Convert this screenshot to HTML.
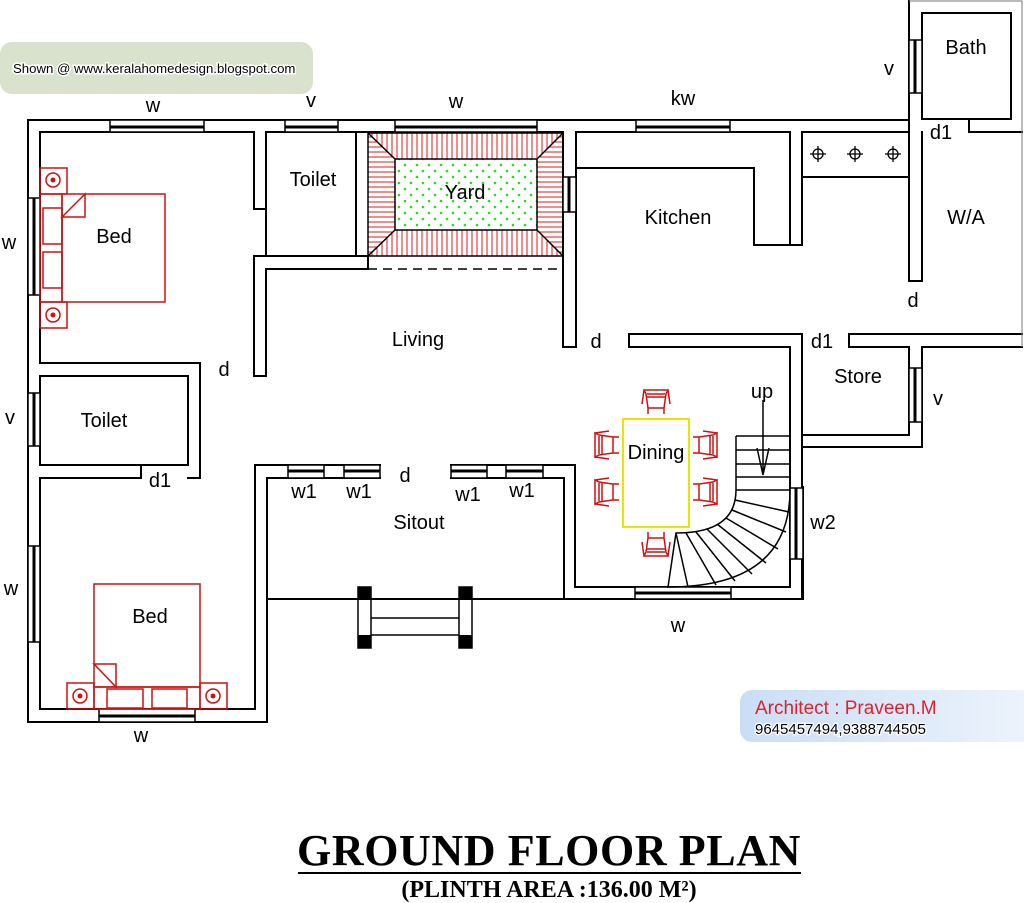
<!DOCTYPE html>
<html><head><meta charset="utf-8"><style>
html,body{margin:0;padding:0;background:#fff;}
svg{display:block}
text{font-family:"Liberation Sans",sans-serif;fill:#000}
</style></head><body>
<svg width="1024" height="903" viewBox="0 0 1024 903" xmlns="http://www.w3.org/2000/svg">
<defs>
<linearGradient id="ag" x1="0" y1="0" x2="1" y2="0"><stop offset="0" stop-color="#c9def6"/><stop offset="1" stop-color="#eef4fc"/></linearGradient>
<pattern id="dots" width="12" height="12" patternUnits="userSpaceOnUse"><circle cx="3" cy="3" r="1.3" fill="#22dd22"/><circle cx="9" cy="9" r="1.3" fill="#22dd22"/></pattern>
<pattern id="vh" width="5" height="5" patternUnits="userSpaceOnUse"><line x1="2" y1="0" x2="2" y2="5" stroke="#e01818" stroke-width="1"/></pattern>
<pattern id="hh" width="5" height="5" patternUnits="userSpaceOnUse"><line x1="0" y1="2" x2="5" y2="2" stroke="#e01818" stroke-width="1"/></pattern>
<g id="chair" stroke="#d01010" stroke-width="1.5" fill="none">
<path d="M-12,-12 h24 l-2,4 l-2,14 h-16 l-2,-14 z M-9,-8 h18 M-9,-5 h18 M-8,6 v6 M8,6 v6 M-12,-12 l-2,14 M12,-12 l2,14"/>
</g>
</defs>
<!-- Shown box -->
<rect x="0" y="42" width="313" height="52" rx="12" fill="#d9e2cd"/>
<text x="13" y="73" font-size="13.2" stroke="#fff" stroke-width="3" paint-order="stroke">Shown @  www.keralahomedesign.blogspot.com</text>

<!-- Yard -->
<rect x="368" y="133" width="195" height="123" fill="#fff"/>
<polygon points="368,133 563,133 537,159 395,159" fill="url(#vh)"/>
<polygon points="368,256 563,256 537,230 395,230" fill="url(#vh)"/>
<polygon points="368,133 395,159 395,230 368,256" fill="url(#hh)"/>
<polygon points="563,133 537,159 537,230 563,256" fill="url(#hh)"/>
<rect x="395" y="159" width="142" height="71" fill="url(#dots)" stroke="#000" stroke-width="1.5"/>
<g stroke="#000" stroke-width="1.5" fill="none">
<rect x="368" y="133" width="195" height="123"/>
<line x1="368" y1="133" x2="395" y2="159"/><line x1="563" y1="133" x2="537" y2="159"/>
<line x1="368" y1="256" x2="395" y2="230"/><line x1="563" y1="256" x2="537" y2="230"/>
<line x1="368" y1="269" x2="563" y2="269" stroke-dasharray="9,6"/>
</g>

<!-- Walls -->
<g stroke="#000" stroke-width="2" fill="none" stroke-linecap="square">
<path d="M28,120 H909"/>
<path d="M40,132 H254 M266,132 H563 M576,132 H790 M802,132 H909"/>
<path d="M28,120 V722 H267"/>
<path d="M40,132 V363 M40,376 V465 M40,478 V709 H255"/>
<path d="M40,363 H200 V478 H188 M40,376 H188 V465 H40 M40,478 H141 V465"/>
<path d="M254,132 V209 H266 M266,132 V256 M356,132 V256 M254,256 H368 V269 H266 M254,256 V376 H266 V269"/>
<path d="M563,132 V347 H576 V132"/>
<path d="M576,168 H754 V245 H802 V132 M790,132 V245"/>
<path d="M802,177 H909"/>
<path d="M909,1 V281 H922 V132 M922,119 V13 H1011 V119 H922 M969,119 V132 H1022"/>
<path d="M629,334 H802 M849,334 H1022 M629,347 H790 M849,347 H909 M922,347 H1022 M629,334 V347 M849,334 V347"/>
<path d="M790,347 V587 M802,334 V599 M802,435 H909 V347 M922,347 V447 H802"/>
<path d="M255,465 H380 M451,465 H575 M267,478 H380 M451,478 H564 M255,465 V709 M267,478 V722 M564,478 V599 M575,465 V587 H790 M267,599 H803 V599 M803,599 V487"/>
</g>
<g stroke="#777" stroke-width="1" fill="none"><path d="M909,1 H1022 V347"/></g>

<!-- Windows -->
<g stroke="#000" stroke-width="1.5" fill="#fff">
<rect x="110" y="120" width="94" height="12"/><rect x="285" y="120" width="53" height="12"/>
<rect x="395" y="120" width="142" height="12"/><rect x="636" y="120" width="94" height="12"/>
<rect x="909" y="40" width="13" height="53"/><rect x="563" y="177" width="13" height="35"/>
<rect x="28" y="198" width="12" height="97"/><rect x="28" y="393" width="12" height="53"/>
<rect x="28" y="546" width="12" height="96"/><rect x="99" y="709" width="96" height="13"/>
<rect x="909" y="368" width="13" height="54"/><rect x="790" y="488" width="13" height="71"/>
<rect x="635" y="587" width="96" height="12"/>
<rect x="288" y="465" width="36" height="13"/><rect x="344" y="465" width="36" height="13"/>
<rect x="451" y="465" width="36" height="13"/><rect x="506" y="465" width="37" height="13"/>
</g>
<g stroke="#000" stroke-width="3">
<path d="M110,127 H204 M285,127 H338 M395,127 H537 M636,127 H730 M915,40 V93 M569,177 V212 M34,198 V295 M34,393 V446 M34,546 V642 M99,716 H195 M915,368 V422 M796,488 V559 M635,593 H731 M288,471 H324 M344,471 H380 M451,471 H487 M506,471 H543"/>
</g>

<!-- Sitout steps -->
<g stroke="#000" stroke-width="1.5" fill="#fff">
<rect x="358" y="587" width="13" height="61"/><rect x="459" y="587" width="13" height="61"/>
<path d="M371,618 H459 M371,635 H459"/>
</g>
<g fill="#000"><rect x="358" y="587" width="13" height="13"/><rect x="459" y="587" width="13" height="13"/><rect x="358" y="635" width="13" height="13"/><rect x="459" y="635" width="13" height="13"/></g>

<!-- Kitchen burners -->
<g stroke="#000" stroke-width="1.3" fill="none">
<circle cx="818" cy="154" r="5"/><path d="M810,154 H826 M818,146 V162"/>
<circle cx="855" cy="154" r="5"/><path d="M847,154 H863 M855,146 V162"/>
<circle cx="893" cy="154" r="5"/><path d="M885,154 H901 M893,146 V162"/>
</g>

<!-- Stairs -->
<g stroke="#000" stroke-width="1.5" fill="none">
<path d="M736,436 H790 M736,436 V490 M736,450 H790 M736,464 H790 M736,477 H790 M736,490 H790"/>
<path d="M736,490 Q736,533 676,533 L668,587 Q790,587 790,490"/>
<path d="M735,500 L789,512 M732,510 L786,532 M726,518 L778,549 M717,524 L766,563 M707,529 L752,574 M696,532 L735,581 M686,533 L716,585 M676,533 L688,587"/>
<path d="M763,400 V475 M757,448 L763,475 L769,448"/>
</g>

<!-- Dining -->
<rect x="623" y="419" width="66" height="108" fill="none" stroke="#e6e600" stroke-width="2"/>
<use href="#chair" transform="translate(656,402)"/>
<use href="#chair" transform="translate(656,544) rotate(180)"/>
<use href="#chair" transform="translate(607,445) rotate(-90)"/>
<use href="#chair" transform="translate(607,492) rotate(-90)"/>
<use href="#chair" transform="translate(705,445) rotate(90)"/>
<use href="#chair" transform="translate(705,492) rotate(90)"/>

<!-- Beds -->
<g stroke="#d01010" stroke-width="1.5" fill="none">
<rect x="62" y="194" width="103" height="108"/>
<rect x="40" y="194" width="22" height="108"/>
<rect x="43" y="208" width="19" height="36"/><rect x="43" y="252" width="19" height="36"/>
<path d="M62,217 L85,194 V217 Z"/>
<rect x="40" y="168" width="27" height="26"/><rect x="40" y="302" width="27" height="26"/>
<circle cx="53" cy="180" r="7"/><circle cx="53" cy="315" r="7"/>
<rect x="94" y="584" width="106" height="103"/>
<rect x="94" y="687" width="106" height="22"/>
<rect x="107" y="689" width="36" height="19"/><rect x="152" y="689" width="35" height="19"/>
<path d="M94,664 H116 V687 Z"/>
<rect x="67" y="683" width="27" height="26"/><rect x="200" y="683" width="27" height="26"/>
<circle cx="80" cy="696" r="7"/><circle cx="213" cy="696" r="7"/>
</g>
<g fill="#d01010"><circle cx="53" cy="180" r="2.5"/><circle cx="53" cy="315" r="2.5"/><circle cx="80" cy="696" r="2.5"/><circle cx="213" cy="696" r="2.5"/></g>

<!-- Labels -->
<g font-size="20" text-anchor="middle">
<text x="153" y="112">w</text><text x="311" y="107">v</text><text x="456" y="108">w</text><text x="683" y="105">kw</text>
<text x="889" y="75">v</text><text x="966" y="54">Bath</text><text x="941" y="139">d1</text><text x="966" y="224">W/A</text>
<text x="913" y="307">d</text><text x="313" y="186">Toilet</text><text x="465" y="199">Yard</text><text x="678" y="224">Kitchen</text>
<text x="114" y="243">Bed</text><text x="9" y="249">w</text><text x="418" y="346">Living</text><text x="224" y="376">d</text>
<text x="596" y="348">d</text><text x="822" y="348">d1</text><text x="858" y="383">Store</text><text x="938" y="405">v</text>
<text x="762" y="398">up</text><text x="10" y="424">v</text><text x="104" y="427">Toilet</text><text x="160" y="487">d1</text>
<text x="656" y="459">Dining</text><text x="823" y="529">w2</text><text x="304" y="498">w1</text><text x="359" y="498">w1</text>
<text x="405" y="482">d</text><text x="468" y="501">w1</text><text x="522" y="497">w1</text><text x="419" y="529">Sitout</text>
<text x="11" y="595">w</text><text x="150" y="623">Bed</text><text x="678" y="632">w</text><text x="141" y="742">w</text>
</g>

<!-- Architect -->
<rect x="740" y="690" width="300" height="52" rx="12" fill="url(#ag)"/>
<text x="755" y="714" font-size="19" style="fill:#e4202a">Architect : Praveen.M</text>
<text x="755" y="734" font-size="15" stroke="#fff" stroke-width="2.5" paint-order="stroke">9645457494,9388744505</text>

<!-- Title -->
<text x="549" y="865" text-anchor="middle" font-size="44" font-weight="bold" letter-spacing="0.6" style="font-family:'Liberation Serif',serif">GROUND  FLOOR PLAN</text>
<line x1="298" y1="873" x2="801" y2="873" stroke="#000" stroke-width="2"/>
<text x="549" y="897" text-anchor="middle" font-size="24" font-weight="bold" style="font-family:'Liberation Serif',serif">(PLINTH AREA :136.00 M²)</text>
</svg>
</body></html>
